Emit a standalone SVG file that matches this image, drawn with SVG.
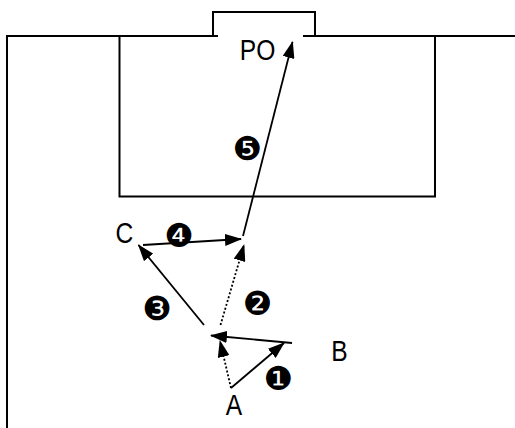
<svg xmlns="http://www.w3.org/2000/svg" width="515" height="428" viewBox="0 0 515 428">
<style>
.ln{fill:none;stroke:#000;stroke-width:2}
.ar{fill:none;stroke:#000;stroke-width:1.8}
.dt{fill:none;stroke:#000;stroke-width:1.8;stroke-dasharray:2 2}
.lbl{font-family:"Liberation Sans",Arial,sans-serif;font-size:30px;fill:#000;text-anchor:middle}
.num{font-family:"DejaVu Sans",sans-serif;font-size:33px;fill:#000;text-anchor:middle;dominant-baseline:central}
</style>
<defs>
<marker id="ah" markerUnits="userSpaceOnUse" markerWidth="17" markerHeight="12" refX="16" refY="6" orient="auto" viewBox="0 0 17 12">
<path d="M0,0 L17,6 L0,12 z" fill="#000"/>
</marker>
</defs>
<g id="field">
<path class="ln" d="M7,428 V36 H218"/>
<path class="ln" d="M303,36 H515"/>
<path class="ln" d="M213,36 V12 H315 V36"/>
<path class="ln" d="M119.5,36 V196.5 H435 V36"/>
</g>
<g id="connectors">
<path class="ar" d="M231,388 L284,343" marker-end="url(#ah)"/>
<path class="dt" d="M231,388 L220,341" marker-end="url(#ah)"/>
<path class="ar" d="M292,343 L211,335.5" marker-end="url(#ah)"/>
<path class="dt" d="M220.5,325 L244,245" marker-end="url(#ah)"/>
<path class="ar" d="M204,325 L138.5,245" marker-end="url(#ah)"/>
<path class="ar" d="M143,245 L241,239" marker-end="url(#ah)"/>
<path class="ar" d="M243,236 L292.5,42" marker-end="url(#ah)"/>
</g>
<g id="PO"><text class="lbl" transform="translate(257.5,59.5) scale(0.82,1)">PO</text></g>
<g id="A"><text class="lbl" transform="translate(234,415) scale(0.82,1)">A</text></g>
<g id="B"><text class="lbl" transform="translate(339.5,360.5) scale(0.82,1)">B</text></g>
<g id="C"><text class="lbl" transform="translate(124.5,242.5) scale(0.82,1)">C</text></g>
<g id="labels">
<text class="num" x="278.5" y="378">❶</text>
<text class="num" x="257.5" y="303">❷</text>
<text class="num" x="157" y="308.5">❸</text>
<text class="num" x="179" y="235">❹</text>
<text class="num" x="247.5" y="148">❺</text>
</g>
</svg>
